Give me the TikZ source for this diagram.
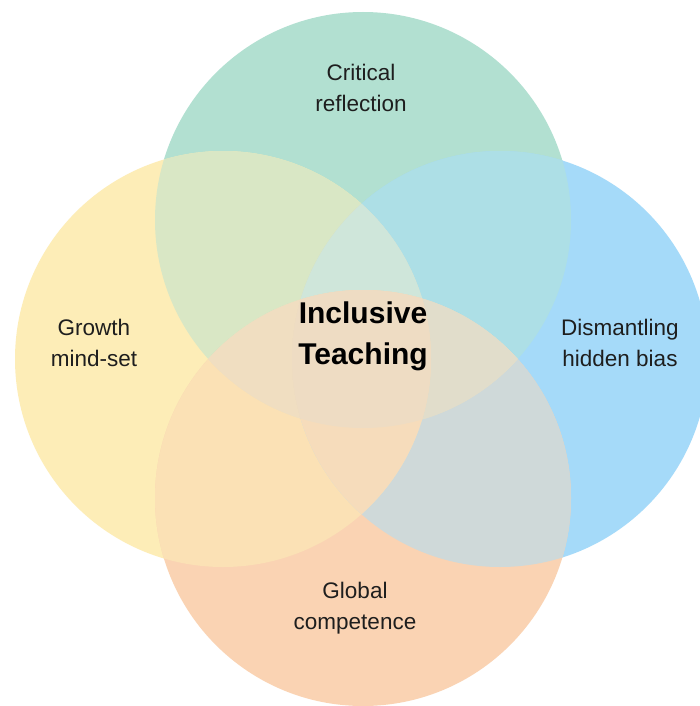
\documentclass[tikz,border=0pt]{standalone}
\usepackage{fontspec}
\setmainfont{Liberation Sans}
\definecolor{cG}{HTML}{B2E0D1}
\definecolor{cY}{HTML}{FDEDB7}
\definecolor{cB}{HTML}{A5DAF9}
\definecolor{cO}{HTML}{FAD3B3}
\definecolor{cYG}{HTML}{D9E7C5}
\definecolor{cGB}{HTML}{ADDFE6}
\definecolor{cYO}{HTML}{FBE1B5}
\definecolor{cBO}{HTML}{CFD9D9}
\definecolor{cYB}{HTML}{E6E2CC}
\definecolor{cGO}{HTML}{E8E0C6}
\definecolor{cYGB}{HTML}{CFE6DA}
\definecolor{cYGO}{HTML}{F0DEC1}
\definecolor{cGBO}{HTML}{E1DDCB}
\definecolor{cYBO}{HTML}{F6DCBB}
\definecolor{cAll}{HTML}{EEDCC3}
\definecolor{txt}{HTML}{1E1E1E}
\tikzset{
  lbl/.style={align=center, text=txt, font=\fontsize{22.5}{31}\selectfont, inner sep=0pt},
  ttl/.style={align=center, text=black, font=\bfseries\fontsize{30}{41}\selectfont, inner sep=0pt}
}
\newcommand{\rr}{208pt}
\begin{document}
\begin{tikzpicture}[x=1pt,y=-1pt]
\useasboundingbox (0,0) rectangle (700,706);
\fill[white] (0,0) rectangle (700,706);
\coordinate (T) at (363,220);
\coordinate (L) at (223,359);
\coordinate (R) at (500,359);
\coordinate (B) at (363,498);
% single circles
\fill[cG] (T) circle[radius=\rr];
\fill[cY] (L) circle[radius=\rr];
\fill[cB] (R) circle[radius=\rr];
\fill[cO] (B) circle[radius=\rr];
% pairs
\begin{scope}\clip (T) circle[radius=\rr]; \fill[cYG] (L) circle[radius=\rr];\end{scope}
\begin{scope}\clip (T) circle[radius=\rr]; \fill[cGB] (R) circle[radius=\rr];\end{scope}
\begin{scope}\clip (L) circle[radius=\rr]; \fill[cYO] (B) circle[radius=\rr];\end{scope}
\begin{scope}\clip (R) circle[radius=\rr]; \fill[cBO] (B) circle[radius=\rr];\end{scope}
\begin{scope}\clip (L) circle[radius=\rr]; \fill[cYB] (R) circle[radius=\rr];\end{scope}
\begin{scope}\clip (T) circle[radius=\rr]; \fill[cGO] (B) circle[radius=\rr];\end{scope}
% triples
\begin{scope}\clip (T) circle[radius=\rr]; \clip (L) circle[radius=\rr]; \fill[cYGB] (R) circle[radius=\rr];\end{scope}
\begin{scope}\clip (T) circle[radius=\rr]; \clip (L) circle[radius=\rr]; \fill[cYGO] (B) circle[radius=\rr];\end{scope}
\begin{scope}\clip (T) circle[radius=\rr]; \clip (R) circle[radius=\rr]; \fill[cGBO] (B) circle[radius=\rr];\end{scope}
\begin{scope}\clip (L) circle[radius=\rr]; \clip (R) circle[radius=\rr]; \fill[cYBO] (B) circle[radius=\rr];\end{scope}
% all four
\begin{scope}\clip (T) circle[radius=\rr]; \clip (L) circle[radius=\rr]; \clip (R) circle[radius=\rr]; \fill[cAll] (B) circle[radius=\rr];\end{scope}
% labels
\node[lbl] (crit) at (361,88) {Critical\\reflection};
\node[lbl] (grow) at (94,343) {Growth\\mind-set};
\node[lbl] (dism) at (620,343) {Dismantling\\hidden bias};
\node[lbl] (glob) at (355,608) {Global\\competence};
\node[ttl] (incl) at (363,336) {Inclusive\\Teaching};
\end{tikzpicture}
\end{document}
